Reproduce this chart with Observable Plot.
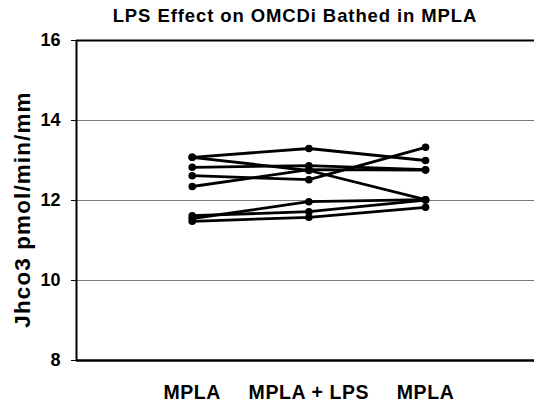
<!DOCTYPE html>
<html>
<head>
<meta charset="utf-8">
<script src="https://cdn.jsdelivr.net/npm/d3@7"></script>
<script src="https://cdn.jsdelivr.net/npm/@observablehq/plot@0.6"></script>
<style>
  html, body { margin: 0; padding: 0; background: #fff; }
  #chart { width: 534px; }
  #title {
    box-sizing: border-box; height: 30px; padding-top: 6px; padding-left: 56px;
    font-family: "Liberation Sans", Arial, sans-serif; font-weight: bold;
    font-size: 18.5px; line-height: 20px; letter-spacing: 0.9px; text-align: center; color: #000;
  }
  g[aria-label="x-axis tick label"] text { letter-spacing: 0.6px; }
  g[aria-label="text"] text { letter-spacing: 1.1px; }
</style>
</head>
<body>
<div id="chart">
  <div id="title">LPS Effect on OMCDi Bathed in MPLA</div>
</div>
<script>
// Conditions (x categories)
const conditions = ["MPLA", "MPLA + LPS", "MPLA"];
// One array per tubule: Jhco3 at each condition
const tubule1 = [13.08, 13.30, 13.00];
const tubule2 = [13.08, 12.75, 12.02];
const tubule3 = [12.83, 12.87, 12.77];
const tubule4 = [12.62, 12.52, 13.33];
const tubule5 = [12.35, 12.77, 12.76];
const tubule6 = [11.55, 11.97, 12.02];
const tubule7 = [11.62, 11.72, 12.01];
const tubule8 = [11.48, 11.58, 11.83];
const yTicks = [8, 10, 12, 14, 16];
const yGrid = [10, 12, 14];
const yLabel = "Jhco3 pmol/min/mm";

const tubules = [tubule1, tubule2, tubule3, tubule4, tubule5, tubule6, tubule7, tubule8];
const data = tubules.flatMap((vals, t) => vals.map((v, i) => ({tubule: t, cond: i, value: v})));

const xDomain = [-0.992, 2.934];
const yDomain = [8, 16];

const chart = Plot.plot({
  width: 534,
  height: 373,
  marginLeft: 76,
  marginRight: 0,
  marginTop: 10,
  marginBottom: 43,
  style: {fontFamily: "'Liberation Sans', Arial, sans-serif", color: "#000", background: "#fff"},
  x: {type: "linear", domain: xDomain},
  y: {domain: yDomain},
  marks: [
    Plot.ruleY(yGrid, {stroke: "#7a7a7a", strokeWidth: 1}),
    Plot.ruleY([yDomain[1]], {stroke: "#000", strokeWidth: 2}),
    Plot.ruleY([yDomain[0]], {stroke: "#000", strokeWidth: 2.5}),
    Plot.ruleX([xDomain[0]], {stroke: "#000", strokeWidth: 2}),
    Plot.axisY({ticks: yTicks, tickSize: 5, tickPadding: 11, fontSize: 18, fontWeight: "bold", label: null, stroke: "#000", strokeWidth: 1}),
    Plot.axisX({ticks: [0, 1, 2], tickFormat: i => conditions[i], tickSize: 0, tickPadding: 25, fontSize: 19.5, fontWeight: "bold", label: null}),
    Plot.line(data, {x: "cond", y: "value", z: "tubule", stroke: "#000", strokeWidth: 2.8}),
    Plot.dot(data, {x: "cond", y: "value", r: 3.8, fill: "#000", stroke: "none"}),
    Plot.text([yLabel], {frameAnchor: "left", rotate: -90, dx: -54, dy: 9, fontSize: 22.5, fontWeight: "bold", fill: "#000", textAnchor: "middle"})
  ]
});
document.getElementById("chart").appendChild(chart);
</script>
</body>
</html>
